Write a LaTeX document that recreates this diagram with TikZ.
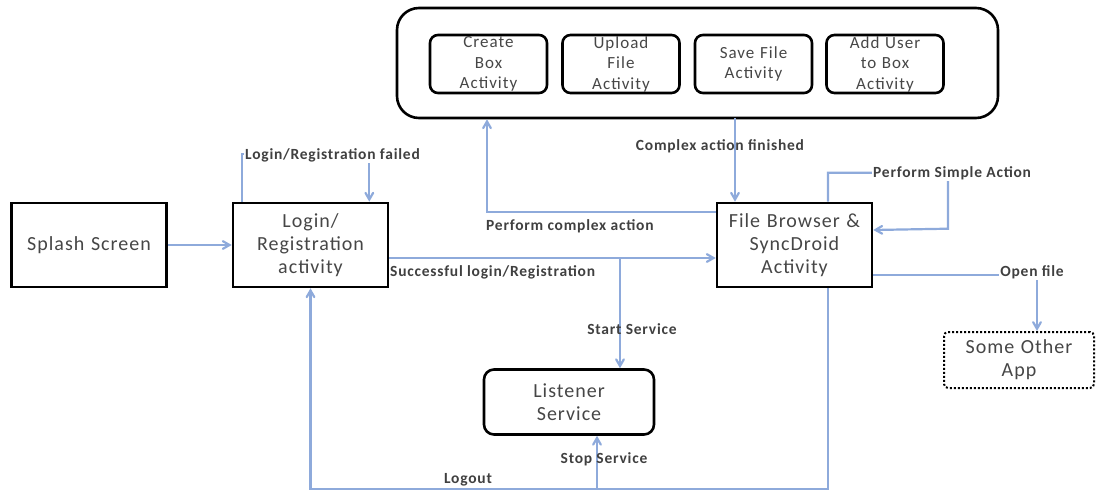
\documentclass[tikz,border=0pt]{standalone}
\usepackage{fontspec}
\setmainfont{Carlito}
\usepackage{tikz}
\usetikzlibrary{arrows,calc,positioning}
\definecolor{flowblue}{RGB}{142,170,219}
\definecolor{boxtext}{RGB}{70,70,70}
\tikzset{actbox/.style={draw,line width=2.6pt,minimum width=155,minimum height=84,text width=150,align=center,inner sep=0,text=boxtext,font=\fontsize{20}{23}\selectfont\addfontfeature{LetterSpace=5}},
	subbox/.style={draw,line width=2.6pt,rounded corners=8,minimum width=117,minimum height=58,text width=115,align=center,inner sep=0,text=boxtext,font=\fontsize{17}{20.5}\selectfont\addfontfeature{LetterSpace=6}},
	groupbox/.style={draw,line width=2.6pt,rounded corners=22,minimum width=601,minimum height=110},
	svcbox/.style={draw,line width=2.6pt,rounded corners=10,minimum width=170,minimum height=65,text width=160,align=center,inner sep=0,text=boxtext,font=\fontsize{20}{23}\selectfont\addfontfeature{LetterSpace=5}},
	extbox/.style={draw,dotted,line width=2pt,rounded corners=4,minimum width=150,minimum height=56,text width=145,align=center,inner sep=0,text=boxtext,font=\fontsize{20}{23}\selectfont\addfontfeature{LetterSpace=5}},
	flow/.style={color=flowblue,line width=2.2pt,->,>=angle 60},
	lbl/.style={font=\fontsize{15.5}{17}\selectfont\bfseries\addfontfeature{LetterSpace=5},text=black!75,inner sep=1pt}}

\begin{document}
\begin{tikzpicture}[x=1pt,y=-1pt]
	\useasboundingbox (0,0) rectangle (1098,490);
	
	\node[actbox] (sp) at (89,245) {Splash Screen};
	\node[actbox] (lg) at (310.5,245) {Login/\\Registration\\activity};
	\node[actbox] (fb) at (794.5,245) {File Browser \&\\SyncDroid\\Activity};
	
	\node[groupbox] (grp) at (697.5,63) {};
	\node[subbox] (cb) at (488.5,64) {Create\\Box\\Activity};
	\node[subbox] (uf) at (621,64) {Upload\\File\\Activity};
	\node[subbox] (sf) at (753.5,64) {Save File\\Activity};
	\node[subbox] (au) at (885,64) {Add User\\to Box\\Activity};
	
	\node[svcbox] (ls) at (569,402) {Listener\\Service};
	\node[extbox] (oa) at (1019,360) {Some Other\\App};
	
	\coordinate (j1) at (620,258);
	\coordinate (j2) at (487,212);
	\coordinate (j3) at (735,118);
	\coordinate (j4) at (1037,275);
	\coordinate (j5) at (597,488);
	
	\draw[flow] (sp) -- (lg);
	
	\draw[flow] ([xshift=10]lg.north west) -- ++(0,-48) -| ([xshift=-20]lg.north east);
	\node[lbl,fill=white,anchor=west] (l1) at (244,155) {Login/Registration failed};
	
	\draw[flow] ([yshift=-13]lg.east) -- ([yshift=-13]fb.west);
	\node[lbl,anchor=west] (l2) at (389,272) {Successful login/Registration};
	
	\draw[flow] (j1) -- (j1 |- ls.north);
	\node[lbl] (l3) at (632,329) {Start Service};
	
	\draw[flow] ([yshift=33]fb.west) -| (j2 |- grp.south);
	\node[lbl,anchor=west] (l4) at (485,226) {Perform complex action};
	
	\draw[flow] (j3) -- (j3 |- fb.north);
	\node[lbl] (l5) at (720,146) {Complex action finished};
	
	\draw[flow] ([xshift=33.5]fb.north) -- ++(0,-29) -- ++(120,0) -- ++(0,56) -- ([yshift=15]fb.east);
	\node[lbl,fill=white,anchor=west] (l6) at (872,173) {Perform Simple Action};
	
	\draw[flow] ([yshift=-30]fb.east) -| (j4 |- oa.north);
	\node[lbl,fill=white] (l7) at (1032,272) {Open file};
	
	\draw[flow] ([xshift=33.5]fb.south) -- ++(0,201) -| (lg.south);
	\node[lbl,anchor=south] (l8) at (468,487) {Logout};
	
	\draw[flow] (j5) -- (j5 |- ls.south);
	\node[lbl] (l9) at (604,459) {Stop Service};
\end{tikzpicture}
\end{document}
